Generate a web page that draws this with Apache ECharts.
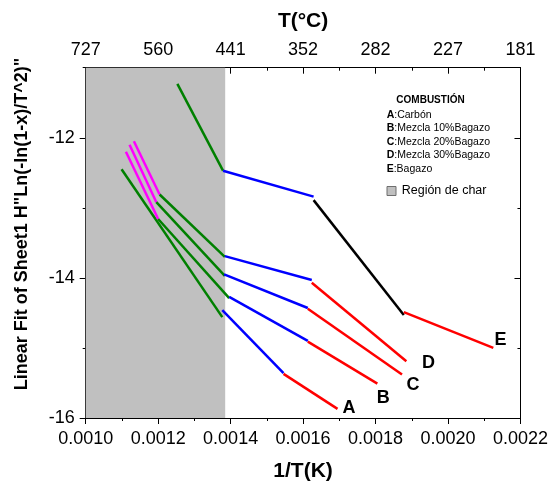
<!DOCTYPE html>
<html>
<head>
<meta charset="utf-8">
<script src="https://cdn.jsdelivr.net/npm/echarts@6/dist/echarts.min.js"></script>
<style>
html,body{margin:0;padding:0;background:#fff;}
#c{width:551px;height:487px;}
</style>
</head>
<body>
<div id="c"></div>
<script>
// ---- data (x = 1/T in 1/K, y = linear fit value) ----
const A_green = [[0.001099, -12.45], [0.001377, -14.56]];
const A_blue  = [[0.001377, -14.46], [0.001546, -15.36]];
const A_red   = [[0.001546, -15.37], [0.001695, -15.87]];

const B_magenta = [[0.001111, -12.20], [0.001200, -13.16]];
const B_green   = [[0.001200, -13.16], [0.001396, -14.29]];
const B_blue    = [[0.001396, -14.27], [0.001613, -14.90]];
const B_red     = [[0.001613, -14.91], [0.001805, -15.51]];

const C_magenta = [[0.001121, -12.10], [0.001195, -12.92]];
const C_green   = [[0.001195, -12.92], [0.001384, -13.97]];
const C_blue    = [[0.001382, -13.95], [0.001613, -14.43]];
const C_red     = [[0.001613, -14.44], [0.001873, -15.38]];

const D_magenta = [[0.001133, -12.05], [0.001204, -12.81]];
const D_green   = [[0.001204, -12.81], [0.001384, -13.70]];
const D_blue    = [[0.001384, -13.69], [0.001624, -14.03]];
const D_red     = [[0.001624, -14.07], [0.001885, -15.19]];

const E_green = [[0.001253, -11.23], [0.001379, -12.47]];
const E_blue  = [[0.001379, -12.47], [0.001629, -12.84]];
const E_black = [[0.001629, -12.89], [0.001878, -14.53]];
const E_red   = [[0.001878, -14.49], [0.002125, -15.00]];

const charRegion = [0.0010, 0.001385];

const bottomTicks = ['0.0010','0.0012','0.0014','0.0016','0.0018','0.0020','0.0022'];
const topTickLabels = ['727','560','441','352','282','227','181'];
const yMajorTicks = [-16, -14, -12];
const yMinorTicks = [-15, -13, -11];

const legendLines = [
  ['A', ':Carbón'],
  ['B', ':Mezcla 10%Bagazo'],
  ['C', ':Mezcla 20%Bagazo'],
  ['D', ':Mezcla 30%Bagazo'],
  ['E', ':Bagazo']
];

// ---- chart ----
const FONT = '"Liberation Sans", Arial, sans-serif';
const GREEN = '#008000', MAGENTA = '#ff00ff', BLUE = '#0000ff', RED = '#ff0000', BLACK = '#000000';
const chart = echarts.init(document.getElementById('c'), null, {renderer: 'canvas'});

function seg(data, color, endText, offset) {
  const s = {
    type: 'line', data: data, xAxisIndex: 0, yAxisIndex: 0,
    symbol: 'none', z: 5, silent: true,
    lineStyle: {color: color, width: 2.5},
    animation: false
  };
  if (endText) {
    s.endLabel = {
      show: true, formatter: endText, distance: 0, offset: offset,
      color: '#000', fontFamily: FONT, fontWeight: 'bold', fontSize: 18,
      align: 'left', verticalAlign: 'middle'
    };
  }
  return s;
}

const idxOf = v => Math.round((v - 0.001) / 0.0002);

const legendGraphics = [
  {type: 'text', x: 430.5, y: 100.7, style: {text: 'COMBUSTIÓN', fill: '#000', fontFamily: FONT, fontWeight: 'bold', fontSize: 10, align: 'center', verticalAlign: 'middle'}}
];
legendLines.forEach((l, i) => {
  legendGraphics.push({
    type: 'text', x: 386.7, y: 115 + i * 13.5,
    style: {
      text: '{b|' + l[0] + '}' + l[1], fill: '#000', fontFamily: FONT, fontSize: 10.5,
      align: 'left', verticalAlign: 'middle',
      rich: {b: {fontWeight: 'bold', fontFamily: FONT, fontSize: 10.5, fill: '#000'}}
    }
  });
});
legendGraphics.push(
  {type: 'rect', shape: {x: 387, y: 186.5, width: 9, height: 9}, style: {fill: '#c0c0c0', stroke: '#6e6e6e', lineWidth: 1}},
  {type: 'text', x: 401.7, y: 191, style: {text: 'Región de char', fill: '#000', fontFamily: FONT, fontSize: 12.5, align: 'left', verticalAlign: 'middle'}},
  {type: 'text', x: 22.5, y: 224, rotation: Math.PI / 2,
   style: {text: 'Linear Fit of Sheet1 H"Ln(-ln(1-x)/T^2)"', fill: '#000', fontFamily: FONT, fontWeight: 'bold', fontSize: 18, align: 'center', verticalAlign: 'middle'}}
);

const axisLineStyle = {show: true, lineStyle: {color: '#000', width: 1}};

const option = {
  backgroundColor: '#fff',
  animation: false,
  grid: {left: 85.7, right: 27.7, top: 67.7, bottom: 66.7, containLabel: false},
  xAxis: [
    {
      type: 'value', position: 'bottom', min: 0.0010, max: 0.0022, interval: 0.0002,
      axisLine: axisLineStyle,
      axisTick: {show: true, inside: false, length: 6, lineStyle: {color: '#000'}},
      minorTick: {show: true, splitNumber: 2, length: 3, lineStyle: {color: '#000'}},
      splitLine: {show: false},
      axisLabel: {color: '#000', fontFamily: FONT, fontSize: 18, margin: 12,
        formatter: v => bottomTicks[idxOf(v)] || ''},
      name: '1/T(K)', nameLocation: 'middle', nameGap: 43,
      nameTextStyle: {color: '#000', fontFamily: FONT, fontWeight: 'bold', fontSize: 21}
    },
    {
      type: 'value', position: 'top', min: 0.0010, max: 0.0022, interval: 0.0002,
      axisLine: axisLineStyle,
      axisTick: {show: true, inside: true, length: 6, lineStyle: {color: '#000'}},
      minorTick: {show: true, splitNumber: 2, length: 3, lineStyle: {color: '#000'}},
      splitLine: {show: false},
      axisLabel: {color: '#000', fontFamily: FONT, fontSize: 18, margin: 9,
        formatter: v => topTickLabels[idxOf(v)] || ''},
      name: 'T(°C)', nameLocation: 'middle', nameGap: 36,
      nameTextStyle: {color: '#000', fontFamily: FONT, fontWeight: 'bold', fontSize: 21}
    }
  ],
  yAxis: [
    {
      type: 'value', position: 'left', min: -16, max: -11,
      axisLine: axisLineStyle,
      axisTick: {show: true, inside: false, length: 6, customValues: yMajorTicks, lineStyle: {color: '#000'}},
      axisLabel: {color: '#000', fontFamily: FONT, fontSize: 18, margin: 11, customValues: yMajorTicks},
      splitLine: {show: false}
    },
    {
      type: 'value', position: 'left', min: -16, max: -11,
      axisLine: {show: false},
      axisTick: {show: true, inside: false, length: 3, customValues: yMinorTicks, lineStyle: {color: '#000'}},
      axisLabel: {show: false},
      splitLine: {show: false}
    },
    {
      type: 'value', position: 'right', min: -16, max: -11,
      axisLine: axisLineStyle,
      axisTick: {show: true, inside: true, length: 6, customValues: yMajorTicks, lineStyle: {color: '#000'}},
      axisLabel: {show: false},
      splitLine: {show: false}
    },
    {
      type: 'value', position: 'right', min: -16, max: -11,
      axisLine: {show: false},
      axisTick: {show: true, inside: true, length: 3, customValues: yMinorTicks, lineStyle: {color: '#000'}},
      axisLabel: {show: false},
      splitLine: {show: false}
    }
  ],
  series: [
    {
      type: 'line', data: [], xAxisIndex: 0, yAxisIndex: 0, z: 1, silent: true,
      markArea: {
        silent: true,
        itemStyle: {color: '#c0c0c0', opacity: 1},
        data: [[{xAxis: charRegion[0]}, {xAxis: charRegion[1]}]]
      }
    },
    seg(A_green, GREEN), seg(A_blue, BLUE), seg(A_red, RED, 'A', [5, -0.7]),
    seg(B_magenta, MAGENTA), seg(B_green, GREEN), seg(B_blue, BLUE), seg(B_red, RED, 'B', [-0.5, 14.3]),
    seg(C_magenta, MAGENTA), seg(C_green, GREEN), seg(C_blue, BLUE), seg(C_red, RED, 'C', [4.5, 10.3]),
    seg(D_magenta, MAGENTA), seg(D_green, GREEN), seg(D_blue, BLUE), seg(D_red, RED, 'D', [15.7, 1.7]),
    seg(E_green, GREEN), seg(E_blue, BLUE), seg(E_black, BLACK), seg(E_red, RED, 'E', [1.3, -8.3])
  ],
  graphic: legendGraphics
};
chart.setOption(option);
</script>
</body>
</html>
